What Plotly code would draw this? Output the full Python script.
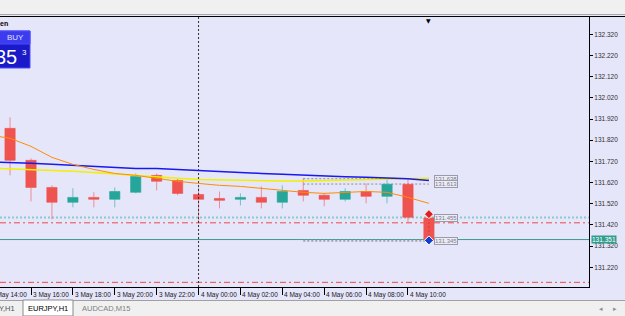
import plotly.graph_objects as go
import pandas as pd

# ---------------- data ----------------
bar_times = pd.date_range("2021-05-03 14:00", periods=22, freq="h")  # 3 May 14:00 .. 4 May 11:00

candle_open = [131.876, 131.725, 131.597, 131.527, 131.550, 131.541, 131.574, 131.654, 131.630, 131.564,
               131.545, 131.541, 131.550, 131.527, 131.583, 131.560, 131.541, 131.578, 131.555, 131.612, 131.453]
candle_high = [131.928, 131.734, 131.607, 131.593, 131.574, 131.597, 131.663, 131.663, 131.640, 131.597,
               131.578, 131.569, 131.602, 131.607, 131.640, 131.569, 131.593, 131.616, 131.640, 131.635, 131.456]
candle_low = [131.654, 131.531, 131.446, 131.503, 131.503, 131.503, 131.569, 131.583, 131.560, 131.432,
              131.498, 131.512, 131.498, 131.498, 131.531, 131.508, 131.531, 131.522, 131.522, 131.432, 131.347]
candle_close = [131.725, 131.597, 131.527, 131.550, 131.541, 131.578, 131.649, 131.626, 131.569, 131.541,
                131.536, 131.550, 131.527, 131.578, 131.560, 131.541, 131.578, 131.555, 131.612, 131.456, 131.351]

ma_blue = [131.717, 131.715, 131.711, 131.706, 131.701, 131.697, 131.692, 131.687, 131.687, 131.682, 131.675,
           131.673, 131.668, 131.663, 131.659, 131.654, 131.649, 131.647, 131.645, 131.642, 131.638, 131.630]
ma_yellow = [131.688, 131.685, 131.680, 131.678, 131.673, 131.668, 131.661, 131.652, 131.645, 131.640, 131.635,
             131.633, 131.630, 131.630, 131.628, 131.628, 131.630, 131.633, 131.635, 131.638, 131.640, 131.640]
ma_orange = [131.845, 131.829, 131.791, 131.739, 131.706, 131.682, 131.663, 131.654, 131.640, 131.626, 131.616,
             131.607, 131.602, 131.593, 131.583, 131.574, 131.569, 131.574, 131.578, 131.574, 131.550, 131.522]

y_ticks = [131.220, 131.320, 131.420, 131.520, 131.620, 131.720, 131.820, 131.920, 132.020, 132.120, 132.220, 132.320]
x_tick_labels = ["3 May 14:00", "3 May 16:00", "3 May 18:00", "3 May 20:00", "3 May 22:00", "4 May 00:00",
                 "4 May 02:00", "4 May 04:00", "4 May 06:00", "4 May 08:00", "4 May 10:00"]

current_price = 131.351
level_teal_dotted = 131.455
level_red_dashdot = [131.430, 131.149]
trade_levels_top = [131.638, 131.613]
trade_level_bottom = 131.345
trade_labels = ["131.638", "131.613", "131.455", "131.345"]
trade_label_values = [131.638, 131.613, 131.455, 131.345]
order_marker_prices = [131.471, 131.347]

# ---------------- geometry helpers (layout only) ----------------
W, H = 625, 316
ML, MR, MT, MB = 0, 36, 17, 29
PW, PH = W - ML - MR, H - MT - MB


def px(x):
    return (x - ML) / PW


def py(y):
    return (H - MB - y) / PH


RED = "#ef5350"
TEAL = "#26a69a"
BG = "#e6e6fa"

fig = go.Figure()

fig.add_trace(go.Candlestick(
    x=bar_times[1:], open=candle_open, high=candle_high, low=candle_low, close=candle_close,
    increasing=dict(line=dict(color="rgba(38,166,154,0.6)", width=1), fillcolor=TEAL),
    decreasing=dict(line=dict(color="rgba(239,83,80,0.6)", width=1), fillcolor=RED),
    whiskerwidth=0, showlegend=False, hoverinfo="skip"))

fig.add_trace(go.Scatter(x=bar_times, y=ma_yellow, mode="lines",
                         line=dict(color="#f0f000", width=1.5), showlegend=False, hoverinfo="skip"))
fig.add_trace(go.Scatter(x=bar_times, y=ma_blue, mode="lines",
                         line=dict(color="#1818f0", width=1.5), showlegend=False, hoverinfo="skip"))
fig.add_trace(go.Scatter(x=bar_times, y=ma_orange, mode="lines",
                         line=dict(color="#ff8c00", width=1), showlegend=False, hoverinfo="skip"))

# order marker link + markers
fig.add_trace(go.Scatter(x=[bar_times[-1]] * 2, y=order_marker_prices, mode="lines",
                         line=dict(color="#e03030", width=1, dash="2px,2px"), showlegend=False, hoverinfo="skip"))
fig.add_trace(go.Scatter(x=[bar_times[-1]] * 2, y=order_marker_prices, mode="markers",
                         marker=dict(symbol="diamond", size=7, color=["#e02020", "#1040d0"],
                                     line=dict(color="white", width=1)),
                         showlegend=False, hoverinfo="skip"))

shapes = []
# horizontal levels
shapes.append(dict(type="line", xref="paper", x0=0, x1=1, yref="y", y0=level_teal_dotted, y1=level_teal_dotted,
                   line=dict(color="#8ccaca", width=2, dash="2px,2px"), layer="below"))
for lv in level_red_dashdot:
    shapes.append(dict(type="line", xref="paper", x0=0, x1=1, yref="y", y0=lv, y1=lv,
                       line=dict(color="#f04848", width=1, dash="6px,3px,2px,3px"), layer="below"))
shapes.append(dict(type="line", xref="paper", x0=0, x1=1, yref="y", y0=current_price, y1=current_price,
                   line=dict(color="#3c9a8c", width=1), layer="below"))
for lv in trade_levels_top:
    shapes.append(dict(type="line", xref="x", x0=bar_times[15], x1=bar_times[-1], yref="y", y0=lv, y1=lv,
                       line=dict(color="#8a8a9a", width=1, dash="2px,2px"), layer="below"))
shapes.append(dict(type="line", xref="x", x0=bar_times[15], x1=bar_times[-1], yref="y",
                   y0=trade_level_bottom, y1=trade_level_bottom,
                   line=dict(color="#a0a0b0", width=2, dash="2px,2px"), layer="below"))
# period separator
shapes.append(dict(type="line", xref="x", x0=bar_times[10], x1=bar_times[10], yref="paper", y0=0, y1=1,
                   line=dict(color="#303030", width=1, dash="2px,2px")))

# window chrome: top strip
shapes.append(dict(type="rect", xref="paper", yref="paper", x0=px(0), x1=px(W), y0=py(0), y1=py(14),
                   fillcolor="#f0f0f0", line=dict(width=0), layer="above"))
shapes.append(dict(type="line", xref="paper", yref="paper", x0=px(0), x1=px(W), y0=py(14.5), y1=py(14.5),
                   line=dict(color="#a8a8a8", width=1)))
shapes.append(dict(type="line", xref="paper", yref="paper", x0=px(0), x1=px(W), y0=py(16.5), y1=py(16.5),
                   line=dict(color="#000000", width=1)))
# tab bar
shapes.append(dict(type="rect", xref="paper", yref="paper", x0=px(0), x1=px(W), y0=py(300), y1=py(H),
                   fillcolor="#f0f0f0", line=dict(width=0)))
shapes.append(dict(type="line", xref="paper", yref="paper", x0=px(0), x1=px(W), y0=py(300.5), y1=py(300.5),
                   line=dict(color="#a0a0a0", width=1)))
shapes.append(dict(type="rect", xref="paper", yref="paper", x0=px(23), x1=px(73), y0=py(300), y1=py(H),
                   fillcolor="#ffffff", line=dict(color="#8a8a8a", width=1)))
# BUY panel
shapes.append(dict(type="rect", xref="paper", yref="paper", x0=px(-2), x1=px(30), y0=py(31), y1=py(68),
                   fillcolor="#1a1ac8", line=dict(color="#4a4aff", width=1)))
shapes.append(dict(type="rect", xref="paper", yref="paper", x0=px(-2), x1=px(30), y0=py(31), y1=py(44),
                   fillcolor="#3c3cee", line=dict(color="#4a4aff", width=1)))

FONT = "Liberation Sans"
annotations = []
# x tick labels
for i, lab in enumerate(x_tick_labels):
    t = bar_times[2 * i]
    if i == 0:
        annotations.append(dict(xref="paper", x=0, xanchor="left", xshift=-11, yref="paper", y=0,
                                yanchor="middle", yshift=-8, text=lab, showarrow=False,
                                font=dict(family=FONT, size=6.5, color="#202020")))
    else:
        annotations.append(dict(xref="x", x=t, xanchor="left", xshift=0, yref="paper", y=0,
                                yanchor="middle", yshift=-8, text=lab, showarrow=False,
                                font=dict(family=FONT, size=6.5, color="#202020")))
# trade labels
for lab, val in zip(trade_labels, trade_label_values):
    annotations.append(dict(xref="x", x=bar_times[-1], xanchor="left", xshift=5, yref="y", y=val,
                            yanchor="middle", text=lab, showarrow=False,
                            font=dict(family=FONT, size=6, color="#7a7a88"),
                            bgcolor="#ececf6", bordercolor="#9a9aaa", borderwidth=1, borderpad=0))
# current price tag
annotations.append(dict(xref="paper", x=1, xanchor="left", xshift=2, yref="y", y=current_price,
                        yanchor="middle", text=f"{current_price:.3f}", showarrow=False,
                        font=dict(family=FONT, size=6.5, color="#ffffff"), bgcolor="#2e9e8e", borderpad=0))
# chart shift marker
annotations.append(dict(xref="x", x=bar_times[-1], yref="paper", y=1, yanchor="top", yshift=2,
                        text="▼", showarrow=False, font=dict(family="DejaVu Sans", size=6, color="#000")))
# BUY panel texts
annotations.append(dict(xref="paper", x=px(15), xanchor="center", yref="paper", y=py(38), yanchor="middle",
                        text="BUY", showarrow=False, font=dict(family=FONT, size=8, color="#e0e0ff")))
annotations.append(dict(xref="paper", x=px(19), xanchor="right", yref="paper", y=py(57), yanchor="middle",
                        text="35", showarrow=False, font=dict(family=FONT, size=20, color="#ffffff")))
annotations.append(dict(xref="paper", x=px(20), xanchor="left", yref="paper", y=py(52), yanchor="middle",
                        text="3", showarrow=False, font=dict(family=FONT, size=8, color="#ffffff")))
annotations.append(dict(xref="paper", x=px(0), xanchor="left", xshift=-2, yref="paper", y=py(24),
                        yanchor="middle", text="<b>en</b>", showarrow=False,
                        font=dict(family=FONT, size=7, color="#000000")))
# tabs
annotations.append(dict(xref="paper", x=px(0), xanchor="left", xshift=-3, yref="paper", y=py(308.5),
                        yanchor="middle", text="Y,H1", showarrow=False,
                        font=dict(family=FONT, size=7.5, color="#505050")))
annotations.append(dict(xref="paper", x=px(48), xanchor="center", yref="paper", y=py(308.5),
                        yanchor="middle", text="EURJPY,H1", showarrow=False,
                        font=dict(family=FONT, size=7.5, color="#000000")))
annotations.append(dict(xref="paper", x=px(106), xanchor="center", yref="paper", y=py(308.5),
                        yanchor="middle", text="AUDCAD,M15", showarrow=False,
                        font=dict(family=FONT, size=7.5, color="#808080")))
annotations.append(dict(xref="paper", x=px(601), xanchor="center", yref="paper", y=py(308.5),
                        yanchor="middle", text="◂", showarrow=False,
                        font=dict(family="DejaVu Sans", size=7, color="#909090")))
annotations.append(dict(xref="paper", x=px(615), xanchor="center", yref="paper", y=py(308.5),
                        yanchor="middle", text="▸", showarrow=False,
                        font=dict(family="DejaVu Sans", size=7, color="#909090")))

x_start = bar_times[0] + pd.Timedelta(minutes=31.2)
x_end = bar_times[0] + pd.Timedelta(hours=28.643)

fig.update_layout(
    width=W, height=H, margin=dict(l=ML, r=MR, t=MT, b=MB, pad=0),
    paper_bgcolor=BG, plot_bgcolor=BG,
    shapes=shapes, annotations=annotations,
    xaxis=dict(type="date", range=[x_start, x_end], rangeslider=dict(visible=False),
               showgrid=False, zeroline=False, showline=True, linecolor="#000000", linewidth=1, mirror=True,
               ticks="outside", ticklen=7, tickcolor="#000000", tickwidth=1,
               tickvals=list(bar_times[0::2][:len(x_tick_labels)]), showticklabels=False, fixedrange=True),
    yaxis=dict(side="right", range=[131.127, 132.4017], showgrid=False, zeroline=False,
               showline=True, linecolor="#000000", linewidth=1,
               ticks="outside", ticklen=3, tickcolor="#000000",
               tickvals=y_ticks, ticktext=[f"{v:.3f}" for v in y_ticks],
               tickfont=dict(family=FONT, size=6.5, color="#303030"), fixedrange=True),
    showlegend=False,
)

fig.write_html("out.html")
